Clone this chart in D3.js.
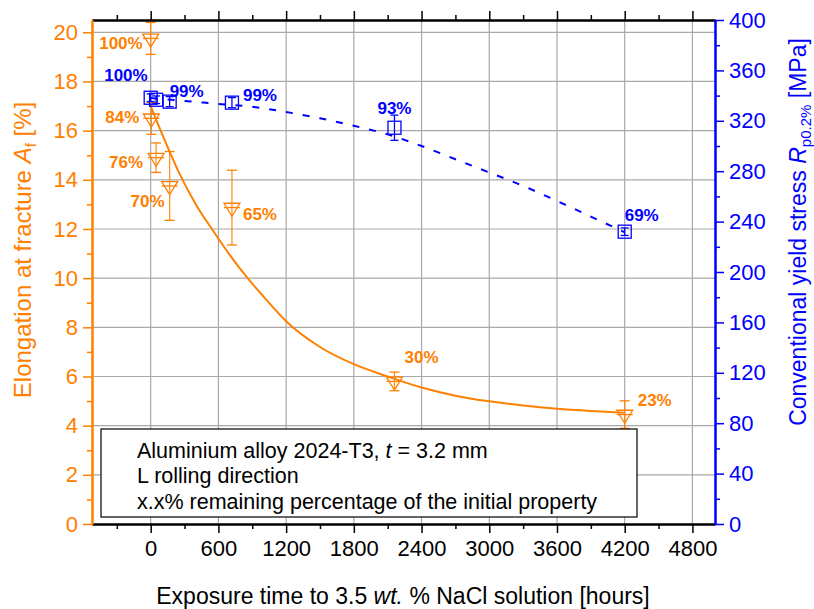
<!DOCTYPE html>
<html>
<head>
<meta charset="utf-8">
<script src="https://cdn.jsdelivr.net/npm/d3@7"></script>
<style>
  body { margin: 0; background: #fff; }
  svg text { font-family: "Liberation Sans", Arial, sans-serif; }
</style>
</head>
<body>
<svg id="chart" width="814" height="609"></svg>
<script>
// Elongation at fracture (left axis), hollow down-triangles
const elongHours = [0, 6, 48, 168, 720, 2160, 4200];
const elongation = [19.75, 16.5, 14.9, 13.75, 12.87, 5.8, 4.45];
const elongErr = [0.65, 0.65, 0.6, 1.4, 1.52, 0.38, 0.56];
const elongPct = ["100%", "84%", "76%", "70%", "65%", "30%", "23%"];

// Conventional yield stress (right axis), hollow squares
const yieldHours = [0, 48, 168, 720, 2160, 4200];
const yieldStress = [338.3, 336.7, 335.2, 334.4, 314.5, 232];
const yieldErr = [3, 3, 4, 4, 10, 3];
const yieldPct = ["100%", "", "99%", "99%", "93%", "69%"];

// Fitted trend of elongation
const elongFitHours = [0, 125, 250, 400, 550, 700, 850, 1000, 1200, 1500, 1800, 2100, 2400, 2700, 3000, 3300, 3600, 3900, 4200];
const elongFit = [17.0, 15.6, 14.3, 13.0, 11.95, 10.95, 10.05, 9.25, 8.25, 7.2, 6.5, 6.0, 5.55, 5.22, 4.99, 4.82, 4.69, 4.6, 4.53];

// Fitted trend of yield stress
const yieldFitHours = [0, 300, 600, 900, 1200, 1500, 1800, 2100, 2400, 2700, 3000, 3300, 3600, 3900, 4200];
const yieldFit = [338, 335.8, 333.4, 331.1, 327, 322, 316, 309.2, 300, 289.5, 279, 268.3, 256.4, 244, 231.5];

// Axis ticks
const xTicks = [0, 600, 1200, 1800, 2400, 3000, 3600, 4200, 4800];
const xMinor = [-300, 300, 900, 1500, 2100, 2700, 3300, 3900, 4500];
const yLeftTicks = [0, 2, 4, 6, 8, 10, 12, 14, 16, 18, 20];
const yLeftMinor = [1, 3, 5, 7, 9, 11, 13, 15, 17, 19];
const yRightTicks = [0, 40, 80, 120, 160, 200, 240, 280, 320, 360, 400];
const yRightMinor = [20, 60, 100, 140, 180, 220, 260, 300, 340, 380];

const legendLines = ["Aluminium alloy 2024-T3, ", "L rolling direction", "x.x% remaining percentage of the initial property"];

// Label placement next to each marker (pixels)
const elongLabelPos = [
  { dx: -8, dy: 11, anchor: "end" },
  { dx: -12, dy: 5, anchor: "end" },
  { dx: -13, dy: 10, anchor: "end" },
  { dx: -5, dy: 21, anchor: "end" },
  { dx: 11, dy: 12, anchor: "start" },
  { dx: 10, dy: -18, anchor: "start" },
  { dx: 13, dy: -9, anchor: "start" }
];
const yieldLabelPos = [
  { dx: -3, dy: -17, anchor: "end" },
  { dx: 0, dy: 0, anchor: "start" },
  { dx: 0, dy: -5, anchor: "start" },
  { dx: 11, dy: -2, anchor: "start" },
  { dx: 0, dy: -14, anchor: "middle" },
  { dx: 0, dy: -11, anchor: "start" }
];

const ORANGE = "#FF8000";
const BLUE = "#0000FF";
const GRID = "#a8a8a8";

const m = { left: 92, right: 715, top: 20, bottom: 524 };
const svg = d3.select("#chart");

const x = d3.scaleLinear().domain([-520, 5000]).range([m.left, m.right]);
const yL = d3.scaleLinear().domain([0, 20.5]).range([m.bottom, m.top]);
const yR = d3.scaleLinear().domain([0, 400]).range([m.bottom, m.top]);

// Grid
const grid = svg.append("g");
grid.selectAll("line.v").data(xTicks).join("line")
  .attr("x1", d => x(d)).attr("x2", d => x(d))
  .attr("y1", m.top).attr("y2", m.bottom)
  .attr("stroke", GRID).attr("stroke-width", 1.2);
grid.selectAll("line.h").data(yLeftTicks.filter(d => d > 0)).join("line")
  .attr("x1", m.left).attr("x2", m.right)
  .attr("y1", d => yL(d)).attr("y2", d => yL(d))
  .attr("stroke", GRID).attr("stroke-width", 1.2);

// Fitted curves
svg.append("path")
  .datum(elongFitHours.map((h, i) => [h, elongFit[i]]))
  .attr("fill", "none").attr("stroke", ORANGE).attr("stroke-width", 2)
  .attr("d", d3.line().x(d => x(d[0])).y(d => yL(d[1])).curve(d3.curveMonotoneX));

svg.append("path")
  .datum(yieldFitHours.map((h, i) => [h, yieldFit[i]]))
  .attr("fill", "none").attr("stroke", BLUE).attr("stroke-width", 2)
  .attr("stroke-dasharray", "7,10")
  .attr("d", d3.line().x(d => x(d[0])).y(d => yR(d[1])).curve(d3.curveMonotoneX));

// Elongation markers with error bars
const eg = svg.append("g").attr("stroke", ORANGE).attr("fill", "none").attr("stroke-width", 1.3);
elongHours.forEach((h, i) => {
  const cx = x(h), cy = yL(elongation[i]);
  const top = yL(elongation[i] + elongErr[i]), bot = yL(elongation[i] - elongErr[i]);
  eg.append("line").attr("x1", cx).attr("x2", cx).attr("y1", top).attr("y2", bot).attr("stroke-opacity", 0.85);
  eg.append("line").attr("x1", cx - 5).attr("x2", cx + 5).attr("y1", top).attr("y2", top);
  eg.append("line").attr("x1", cx - 5).attr("x2", cx + 5).attr("y1", bot).attr("y2", bot);
  // down triangle, centroid at the data point
  const w = 16, hgt = 13;
  eg.append("path").attr("d",
    `M${cx - w / 2},${cy - hgt / 3}L${cx + w / 2},${cy - hgt / 3}L${cx},${cy + 2 * hgt / 3}Z`);
  eg.append("line").attr("x1", cx - w / 2).attr("x2", cx + w / 2).attr("y1", cy).attr("y2", cy);
});

// Yield stress markers with error bars
const bg = svg.append("g").attr("stroke", BLUE).attr("fill", "none").attr("stroke-width", 1.3);
yieldHours.forEach((h, i) => {
  const cx = x(h), cy = yR(yieldStress[i]);
  const top = yR(yieldStress[i] + yieldErr[i]), bot = yR(yieldStress[i] - yieldErr[i]);
  bg.append("line").attr("x1", cx).attr("x2", cx).attr("y1", top).attr("y2", bot);
  bg.append("line").attr("x1", cx - 4).attr("x2", cx + 4).attr("y1", top).attr("y2", top);
  bg.append("line").attr("x1", cx - 4).attr("x2", cx + 4).attr("y1", bot).attr("y2", bot);
  bg.append("rect").attr("x", cx - 6.5).attr("y", cy - 6.5).attr("width", 13).attr("height", 13);
});

// Percentage labels
const pctStyle = sel => sel.attr("font-size", 17).attr("font-weight", "bold");
elongHours.forEach((h, i) => {
  const p = elongLabelPos[i];
  svg.append("text").call(pctStyle).attr("fill", ORANGE)
    .attr("x", x(h) + p.dx).attr("y", yL(elongation[i]) + p.dy)
    .attr("text-anchor", p.anchor).text(elongPct[i]);
});
yieldHours.forEach((h, i) => {
  if (!yieldPct[i]) return;
  const p = yieldLabelPos[i];
  svg.append("text").call(pctStyle).attr("fill", BLUE)
    .attr("x", x(h) + p.dx).attr("y", yR(yieldStress[i]) + p.dy)
    .attr("text-anchor", p.anchor).text(yieldPct[i]);
});

// Legend box
const lg = svg.append("g");
lg.append("rect").attr("x", 101).attr("y", 429).attr("width", 536).attr("height", 88)
  .attr("fill", "#fff").attr("stroke", "#000").attr("stroke-width", 1.2);
const l1 = lg.append("text").attr("x", 137).attr("y", 458).attr("font-size", 21.5);
l1.append("tspan").text(legendLines[0]);
l1.append("tspan").attr("font-style", "italic").text("t");
l1.append("tspan").text(" = 3.2 mm");
lg.append("text").attr("x", 137).attr("y", 483).attr("font-size", 21.5).text(legendLines[1]);
lg.append("text").attr("x", 137).attr("y", 509).attr("font-size", 21.5).text(legendLines[2]);

// Axes
function styleAxis(g, color, fontSize) {
  g.select(".domain").attr("stroke", color).attr("stroke-width", 2);
  g.selectAll(".tick line").attr("stroke", color).attr("stroke-width", 1.5);
  g.selectAll(".tick text").attr("fill", color).attr("font-size", fontSize)
    .attr("font-family", "Liberation Sans, Arial, sans-serif");
}

// bottom
svg.append("g").attr("transform", `translate(0,${m.bottom})`)
  .call(d3.axisBottom(x).tickValues(xMinor).tickSize(5).tickFormat("").tickSizeOuter(0))
  .call(g => styleAxis(g, "#000", 22));
svg.append("g").attr("transform", `translate(0,${m.bottom})`)
  .call(d3.axisBottom(x).tickValues(xTicks).tickSize(9).tickPadding(7).tickFormat(d3.format("d")).tickSizeOuter(0))
  .call(g => styleAxis(g, "#000", 22));
// top
svg.append("g").attr("transform", `translate(0,${m.top})`)
  .call(d3.axisTop(x).tickValues(xMinor).tickSize(5).tickFormat("").tickSizeOuter(0))
  .call(g => styleAxis(g, "#000", 22));
svg.append("g").attr("transform", `translate(0,${m.top})`)
  .call(d3.axisTop(x).tickValues(xTicks).tickSize(9).tickFormat("").tickSizeOuter(0))
  .call(g => styleAxis(g, "#000", 22));
// left
svg.append("g").attr("transform", `translate(${m.left},0)`)
  .call(d3.axisLeft(yL).tickValues(yLeftMinor).tickSize(5).tickFormat("").tickSizeOuter(0))
  .call(g => styleAxis(g, ORANGE, 22));
svg.append("g").attr("transform", `translate(${m.left},0)`)
  .call(d3.axisLeft(yL).tickValues(yLeftTicks).tickSize(9).tickPadding(5).tickFormat(d3.format("d")).tickSizeOuter(0))
  .call(g => styleAxis(g, ORANGE, 22));
// right
svg.append("g").attr("transform", `translate(${m.right},0)`)
  .call(d3.axisRight(yR).tickValues(yRightMinor).tickSize(5).tickFormat("").tickSizeOuter(0))
  .call(g => styleAxis(g, BLUE, 22));
svg.append("g").attr("transform", `translate(${m.right},0)`)
  .call(d3.axisRight(yR).tickValues(yRightTicks).tickSize(9).tickPadding(5).tickFormat(d3.format("d")).tickSizeOuter(0))
  .call(g => styleAxis(g, BLUE, 22));

// Axis titles
const xt = svg.append("text").attr("x", 403).attr("y", 604)
  .attr("text-anchor", "middle").attr("font-size", 23).attr("fill", "#000");
xt.append("tspan").text("Exposure time to 3.5 ");
xt.append("tspan").attr("font-style", "italic").text("wt.");
xt.append("tspan").text(" % NaCl solution [hours]");

const lt = svg.append("text").attr("transform", `translate(31,250) rotate(-90)`)
  .attr("text-anchor", "middle").attr("font-size", 24).attr("fill", ORANGE);
lt.append("tspan").text("Elongation at fracture ");
lt.append("tspan").attr("font-style", "italic").text("A");
lt.append("tspan").attr("font-size", 15).attr("dy", 5).text("f");
lt.append("tspan").attr("dy", -5).text(" [%]");

const rt = svg.append("text").attr("transform", `translate(806,232) rotate(-90)`)
  .attr("text-anchor", "middle").attr("font-size", 23).attr("fill", BLUE);
rt.append("tspan").text("Conventional yield stress ");
rt.append("tspan").attr("font-style", "italic").text("R");
rt.append("tspan").attr("font-size", 15).attr("dy", 5).text("p0.2%");
rt.append("tspan").attr("dy", -5).text(" [MPa]");
</script>
</body>
</html>
